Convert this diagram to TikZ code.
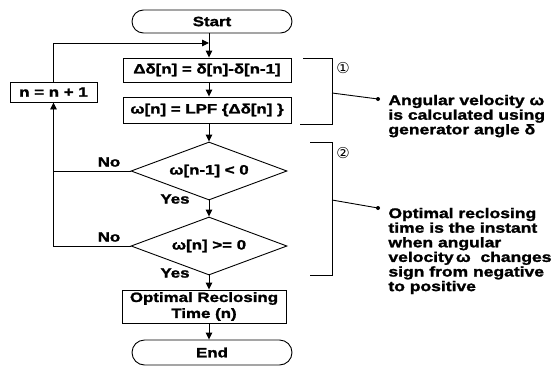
\documentclass[tikz,border=0pt]{standalone}
\usepackage{fontspec}
\newfontfamily\boldwide{Liberation Sans Bold}[FakeStretch=1.25, FakeBold=1.6]
\newfontfamily\circfont{DejaVu Sans}
\usetikzlibrary{shapes.geometric,arrows.meta}
\newcommand\flowfont{\boldwide\fontsize{13.5}{16}\selectfont}
\newcommand\notefont{\boldwide\fontsize{14}{14.6}\selectfont}
\begin{document}
\begin{tikzpicture}[x=1pt,y=-1pt, line width=0.9pt,
  >={Triangle[length=7pt,width=6.5pt]},
  term/.style={draw, rectangle, rounded corners=11.5pt, minimum width=160pt, minimum height=23pt, inner sep=0pt, font=\flowfont},
  proc/.style={draw, rectangle, minimum height=24pt, inner sep=0pt, font=\flowfont},
  dec/.style={draw, diamond, aspect=2.7, minimum width=156pt, minimum height=58pt, inner sep=0pt, font=\flowfont},
  lbl/.style={font=\flowfont, inner sep=0pt},
  note/.style={font=\notefont, align=left, anchor=north west, inner sep=0pt},
  circ/.style={font=\circfont\fontsize{15}{15}\selectfont, inner sep=0pt},
]
\fill[white] (0,0) rectangle (556,367);
\useasboundingbox (0,0) rectangle (556,367);

\node[term] (start) at (212,21.5) {Start};
\node[proc, minimum width=168pt] (b1) at (207,70) {Δδ[n] = δ[n]-δ[n-1]};
\node[proc, minimum width=168pt, minimum height=26pt] (b2) at (207,110) {ω[n] = LPF \{Δδ[n] \}};
\node[proc, minimum width=87pt, minimum height=20pt] (inc) at (53.5,92) {n = n + 1};
\node[dec] (d1) at (209,171) {ω[n-1] < 0};
\node[dec] (d2) at (209,246) {ω[n] >= 0};
\node[proc, minimum width=164pt, minimum height=33pt, align=center] (b3) at (204,306.5) {Optimal Reclosing\\Time (n)};
\node[term, minimum height=25pt, rounded corners=12.5pt] (end) at (212,352.5) {End};

\coordinate (col) at (209,0);
\coordinate (join) at (209,43);

\draw[->] (start.south -| col) -- (b1.north -| col);
\draw[->] (inc.north) |- (join);
\draw[->] (b1.south -| col) -- (b2.north -| col);
\draw[->] (b2.south -| col) -- (d1.north);
\draw[->] (d1.south) -- (d2.north);
\draw[->] (d2.south) -- (b3.north -| d2.south);
\draw[->] (b3.south -| col) -- (end.north -| col);
\draw[->] (d1.west) -| (inc.south);
\draw (d2.west) -| (inc.south |- d1.west);

\node[lbl] (no1) at (109,162) {No};
\node[lbl] (yes1) at (175,199) {Yes};
\node[lbl] (no2) at (109,237) {No};
\node[lbl] (yes2) at (175,273) {Yes};

% bracket 1
\coordinate (k1a) at (303,58);
\coordinate (k1b) at (332,58);
\coordinate (k1c) at (332,124);
\coordinate (k1d) at (300,124);
\coordinate (k1m) at (332,93);
\coordinate (k1e) at (378,99);
\draw (k1a) -- (k1b) -- (k1c) -- (k1d);
\draw (k1m) -- (k1e);
\fill (k1e) circle (2pt);
\node[circ] (c1) at (343,68) {①};

% bracket 2
\coordinate (k2a) at (310,142);
\coordinate (k2b) at (332,142);
\coordinate (k2c) at (332,275);
\coordinate (k2d) at (310,275);
\coordinate (k2m) at (332,200);
\coordinate (k2e) at (378,208);
\draw (k2a) -- (k2b) -- (k2c) -- (k2d);
\draw (k2m) -- (k2e);
\fill (k2e) circle (2pt);
\node[circ] (c2) at (343,153) {②};

\node[note] (n1) at (388,94.5) {Angular velocity ω\\is calculated using\\generator angle δ};
\node[note] (n2) at (388,207.5) {Optimal reclosing\\time is the instant\\when angular\\velocity\,ω\ \ changes\\sign from negative\\to positive};
\end{tikzpicture}
\end{document}
